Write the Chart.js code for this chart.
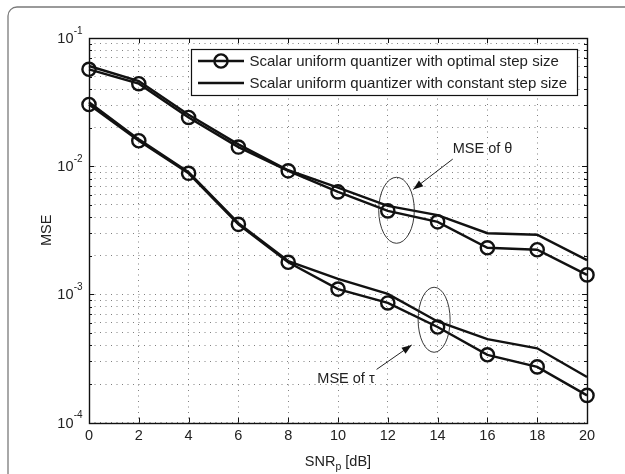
<!DOCTYPE html>
<html><head><meta charset="utf-8">
<script src="https://cdn.jsdelivr.net/npm/chart.js@4/dist/chart.umd.min.js"></script>
<style>html,body{margin:0;padding:0;background:#fff}#wrap{width:625px;height:474px;position:relative}</style>
</head><body><div id="wrap"><canvas id="c" width="625" height="474"></canvas></div>
<script>
// ---- data ----
const snrDb = [0, 2, 4, 6, 8, 10, 12, 14, 16, 18, 20];
const thetaOptimal  = [0.0570, 0.0440, 0.0240, 0.0141, 0.0092, 0.0063, 0.00448, 0.00368, 0.00231, 0.00223, 0.00142];
const thetaConstant = [0.0605, 0.0462, 0.0252, 0.0148, 0.0093, 0.0068, 0.00490, 0.00415, 0.00300, 0.00292, 0.00185];
const tauOptimal    = [0.0303, 0.0158, 0.0088, 0.00352, 0.00178, 0.00110, 0.000858, 0.000557, 0.000338, 0.000272, 0.000163];
const tauConstant   = [0.0315, 0.0162, 0.0090, 0.00360, 0.00182, 0.00132, 0.00101, 0.000615, 0.000448, 0.000380, 0.000227];
const xTickValues = [0, 2, 4, 6, 8, 10, 12, 14, 16, 18, 20];
const yDecades = [1e-4, 1e-3, 1e-2, 1e-1];
const yDecadeExponents = ['-4', '-3', '-2', '-1'];
const legendLabels = ['Scalar uniform quantizer with optimal step size', 'Scalar uniform quantizer with constant step size'];
const xTitleMain = 'SNR', xTitleSub = 'p', xTitleTail = ' [dB]';
const yTitle = 'MSE';
const annotThetaText = 'MSE of \u03B8';
const annotTauText = 'MSE of \u03C4';

// ---- annotation placement (data coordinates) ----
const ANN = {
  thetaEllipse: {x: 12.35, y: 0.00453, rx: 17.8, ry: 33},
  tauEllipse:   {x: 13.86, y: 0.000634, rx: 16, ry: 32.5},
  thetaArrow: {x1: 14.61, y1: 0.01137, x2: 13.02, y2: 0.00659},
  tauArrow:   {x1: 11.55, y1: 0.00026, x2: 12.96, y2: 0.000403},
  thetaText: {x: 14.61, y: 0.01372},
  tauText:   {x: 9.17, y: 0.000217}
};

const FONT = '"Liberation Sans", Arial, Helvetica, sans-serif';
const INK = '#111';

function pts(ys) { return snrDb.map((x, i) => ({x, y: ys[i]})); }

const lineBase = {borderColor: INK, borderWidth: 2.4, tension: 0, fill: false, clip: false};
const markerStyle = {pointStyle: 'circle', pointRadius: 6.6, pointBorderWidth: 2.4,
  pointBorderColor: INK, pointBackgroundColor: 'rgba(0,0,0,0)', pointHoverRadius: 6.6};

const yTickValues = [];
yDecades.forEach((d, i) => {
  if (i === yDecades.length - 1) { yTickValues.push(d); return; }
  for (let k = 1; k <= 9; k++) yTickValues.push(+(k * d).toPrecision(3));
});

function drawArrow(ctx, x1, y1, x2, y2) {
  ctx.beginPath(); ctx.moveTo(x1, y1); ctx.lineTo(x2, y2); ctx.stroke();
  const a = Math.atan2(y2 - y1, x2 - x1), L = 10, W = 3.6;
  ctx.beginPath();
  ctx.moveTo(x2, y2);
  ctx.lineTo(x2 - L * Math.cos(a) + W * Math.sin(a), y2 - L * Math.sin(a) - W * Math.cos(a));
  ctx.lineTo(x2 - L * Math.cos(a) - W * Math.sin(a), y2 - L * Math.sin(a) + W * Math.cos(a));
  ctx.closePath(); ctx.fill();
}

const decor = {
  id: 'decor',
  beforeDraw(chart) {
    const ctx = chart.ctx;
    ctx.save();
    ctx.fillStyle = '#fff'; ctx.fillRect(0, 0, chart.width, chart.height);
    // outer rounded frame
    ctx.strokeStyle = '#7a7a7a'; ctx.lineWidth = 1.3;
    const x0 = 8, y0 = 7, r = 9, x1 = 660, y1 = 520;
    ctx.beginPath();
    ctx.moveTo(x0, y1); ctx.lineTo(x0, y0 + r);
    ctx.arcTo(x0, y0, x0 + r, y0, r);
    ctx.lineTo(x1, y0);
    ctx.stroke();
    ctx.restore();
  },
  beforeDatasetsDraw(chart) {
    const {ctx, chartArea: a, scales: {x, y}} = chart;
    ctx.save();
    ctx.strokeStyle = INK; ctx.lineWidth = 1;
    // inward tick marks
    ctx.beginPath();
    xTickValues.forEach(v => {
      const px = Math.round(x.getPixelForValue(v)) + 0.5;
      ctx.moveTo(px, a.bottom); ctx.lineTo(px, a.bottom - 5);
      ctx.moveTo(px, a.top); ctx.lineTo(px, a.top + 5);
    });
    yTickValues.forEach(v => {
      const py = Math.round(y.getPixelForValue(v)) + 0.5;
      const major = yDecades.includes(v);
      const len = major ? 5 : 3;
      ctx.moveTo(a.left, py); ctx.lineTo(a.left + len, py);
      ctx.moveTo(a.right, py); ctx.lineTo(a.right - len, py);
    });
    ctx.stroke();
    // axes box
    ctx.lineWidth = 1.4;
    ctx.strokeRect(Math.round(a.left) + 0.5, Math.round(a.top) + 0.5,
      Math.round(a.right - a.left), Math.round(a.bottom - a.top));
    ctx.restore();
  },
  afterDraw(chart) {
    const {ctx, chartArea: a, scales: {x, y}} = chart;
    ctx.save();
    ctx.fillStyle = '#222'; ctx.strokeStyle = '#222';
    // y tick labels 10^n
    yDecades.forEach((d, i) => {
      const py = y.getPixelForValue(d);
      ctx.font = '14.5px ' + FONT; ctx.textAlign = 'right'; ctx.textBaseline = 'middle';
      ctx.fillText('10', a.left - 15.5, py + 1);
      ctx.font = '10px ' + FONT; ctx.textAlign = 'left';
      ctx.fillText(yDecadeExponents[i], a.left - 15.3, py - 7);
    });
    // x title with subscript
    ctx.textBaseline = 'middle'; ctx.textAlign = 'left';
    ctx.font = '14.5px ' + FONT;
    const w1 = ctx.measureText(xTitleMain).width, w3 = ctx.measureText(xTitleTail).width;
    ctx.font = '10.5px ' + FONT;
    const w2 = ctx.measureText(xTitleSub).width;
    const cx = (a.left + a.right) / 2, ty = 462;
    let sx = cx - (w1 + w2 + w3) / 2;
    ctx.font = '14.5px ' + FONT; ctx.fillText(xTitleMain, sx, ty);
    ctx.font = '10.5px ' + FONT; ctx.fillText(xTitleSub, sx + w1, ty + 5);
    ctx.font = '14.5px ' + FONT; ctx.fillText(xTitleTail, sx + w1 + w2, ty);
    // y title
    ctx.save();
    ctx.translate(47, (a.top + a.bottom) / 2);
    ctx.rotate(-Math.PI / 2);
    ctx.textAlign = 'center'; ctx.textBaseline = 'middle';
    ctx.fillText(yTitle, 0, 0);
    ctx.restore();

    // annotations
    ctx.lineWidth = 0.9; ctx.strokeStyle = '#222';
    [ANN.thetaEllipse, ANN.tauEllipse].forEach(e => {
      ctx.beginPath();
      ctx.ellipse(x.getPixelForValue(e.x), y.getPixelForValue(e.y), e.rx, e.ry, 0, 0, Math.PI * 2);
      ctx.stroke();
    });
    ctx.lineWidth = 1; ctx.fillStyle = '#111';
    [ANN.thetaArrow, ANN.tauArrow].forEach(ar => {
      drawArrow(ctx, x.getPixelForValue(ar.x1), y.getPixelForValue(ar.y1),
        x.getPixelForValue(ar.x2), y.getPixelForValue(ar.y2));
    });
    ctx.fillStyle = '#222'; ctx.font = '14.5px ' + FONT;
    ctx.textAlign = 'left'; ctx.textBaseline = 'middle';
    ctx.fillText(annotThetaText, x.getPixelForValue(ANN.thetaText.x), y.getPixelForValue(ANN.thetaText.y));
    ctx.fillText(annotTauText, x.getPixelForValue(ANN.tauText.x), y.getPixelForValue(ANN.tauText.y));

    // legend
    const L = {left: 191.5, top: 49.5, right: 577.5, bottom: 95.5};
    ctx.fillStyle = '#fff';
    ctx.fillRect(L.left, L.top, L.right - L.left, L.bottom - L.top);
    ctx.strokeStyle = INK; ctx.lineWidth = 1.2;
    ctx.strokeRect(L.left, L.top, L.right - L.left, L.bottom - L.top);
    const rows = [61, 83];
    const entryDatasets = [chart.data.datasets[2], chart.data.datasets[1]];
    rows.forEach((ry, i) => {
      const ds = entryDatasets[i];
      ctx.strokeStyle = ds.borderColor; ctx.lineWidth = ds.borderWidth;
      ctx.beginPath(); ctx.moveTo(198, ry); ctx.lineTo(244, ry); ctx.stroke();
      if (ds.pointRadius) {
        ctx.lineWidth = ds.pointBorderWidth;
        ctx.beginPath(); ctx.arc(221, ry, ds.pointRadius, 0, Math.PI * 2); ctx.stroke();
      }
      ctx.fillStyle = '#222'; ctx.font = '15px ' + FONT;
      ctx.textAlign = 'left'; ctx.textBaseline = 'middle';
      ctx.fillText(legendLabels[i], 249.5, ry + 0.5);
    });
    ctx.restore();
  }
};

new Chart(document.getElementById('c'), {
  type: 'line',
  data: {
    datasets: [
      Object.assign({label: legendLabels[1] + ' (tau)', data: pts(tauConstant), pointRadius: 0}, lineBase),
      Object.assign({label: legendLabels[1], data: pts(thetaConstant), pointRadius: 0}, lineBase),
      Object.assign({label: legendLabels[0], data: pts(thetaOptimal)}, lineBase, markerStyle),
      Object.assign({label: legendLabels[0] + ' (tau)', data: pts(tauOptimal)}, lineBase, markerStyle)
    ]
  },
  options: {
    responsive: false, animation: false, devicePixelRatio: 1,
    layout: {padding: {left: 89, top: 38, right: 38, bottom: 24}},
    plugins: {legend: {display: false}, tooltip: {enabled: false}},
    events: [],
    scales: {
      x: {
        type: 'linear', min: 0, max: 20,
        afterBuildTicks: s => { s.ticks = xTickValues.map(v => ({value: v})); },
        ticks: {font: {family: FONT, size: 14.5}, color: '#222', padding: 5, maxRotation: 0, autoSkip: false,
          callback: v => String(v)},
        grid: {color: '#808080', lineWidth: 1, drawTicks: false},
        border: {display: false, dash: [1, 4.5]}
      },
      y: {
        type: 'logarithmic', min: 1e-4, max: 1e-1,
        afterBuildTicks: s => { s.ticks = yTickValues.map(v => ({value: v})); },
        ticks: {display: false},
        grid: {color: '#808080', lineWidth: 1, drawTicks: false},
        border: {display: false, dash: [1, 4.5]}
      }
    }
  },
  plugins: [decor]
});
</script>
</body></html>
